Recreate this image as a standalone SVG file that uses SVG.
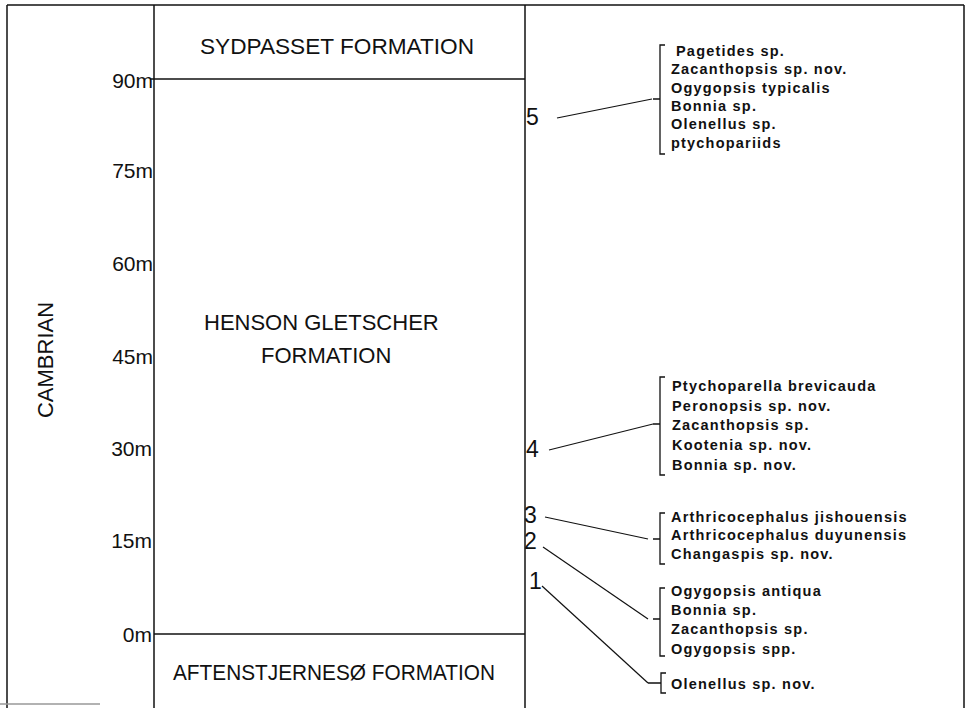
<svg xmlns="http://www.w3.org/2000/svg" width="971" height="708" viewBox="0 0 971 708">
<style>
.frame{stroke:#111;stroke-width:1.5;fill:none}
.big{font-family:"Liberation Sans",Arial,sans-serif;font-size:22px;fill:#111}
.ax{font-family:"Liberation Sans",Arial,sans-serif;font-size:21px;fill:#111;text-anchor:end}
.num{font-family:"Liberation Sans",Arial,sans-serif;font-size:23px;fill:#111}
.sp{font-family:"Liberation Sans",Arial,sans-serif;font-size:14.5px;font-weight:bold;letter-spacing:1.2px;fill:#111}
.con{stroke:#111;stroke-width:1.2;fill:none}
.br{stroke:#111;stroke-width:1.3;fill:none}
</style>
<rect width="971" height="708" fill="#fff"/>
<g id="frame">
<line class="frame" x1="7" y1="5" x2="964" y2="5"/>
<line class="frame" x1="7" y1="5" x2="7" y2="708"/>
<line class="frame" x1="964" y1="5" x2="964" y2="708"/>
<line class="frame" x1="154" y1="5" x2="154" y2="708"/>
<line class="frame" x1="525" y1="5" x2="525" y2="708"/>
<line x1="0" y1="704" x2="100" y2="704" stroke="#999" stroke-width="1.5"/>
</g>
<g id="sydpasset">
<line class="frame" x1="150" y1="79" x2="525" y2="79"/>
<text class="big" x="200" y="54" textLength="274" lengthAdjust="spacingAndGlyphs">SYDPASSET FORMATION</text>
</g>
<g id="henson">
<text class="big" x="204" y="330">HENSON GLETSCHER</text>
<text class="big" x="261" y="363">FORMATION</text>
</g>
<g id="aftenstjernesoe">
<line class="frame" x1="154" y1="634" x2="525" y2="634"/>
<text class="big" x="173" y="680" textLength="322" lengthAdjust="spacingAndGlyphs">AFTENSTJERNESØ FORMATION</text>
</g>
<g id="axis">
<text class="big" transform="translate(53 360) rotate(-90)" text-anchor="middle">CAMBRIAN</text>
<text class="ax" x="153" y="88">90m</text>
<text class="ax" x="153" y="178">75m</text>
<text class="ax" x="153" y="271">60m</text>
<text class="ax" x="153" y="364">45m</text>
<text class="ax" x="152" y="456">30m</text>
<text class="ax" x="152" y="548">15m</text>
<text class="ax" x="152" y="642">0m</text>
</g>
<g id="levels">
<text class="num" x="526" y="125">5</text>
<text class="num" x="526" y="457">4</text>
<text class="num" x="524" y="523">3</text>
<text class="num" x="524" y="549">2</text>
<text class="num" x="529" y="589">1</text>
</g>
<g id="connectors">
<line class="con" x1="557" y1="118" x2="652" y2="99"/>
<line class="con" x1="549" y1="450" x2="653" y2="424"/>
<line class="con" x1="545" y1="517" x2="648" y2="539"/>
<line class="con" x1="543" y1="547" x2="648" y2="619"/>
<line class="con" x1="542" y1="586" x2="648" y2="683"/>
</g>
<g id="group5">
<path class="br" d="M665 45 H660 V154 H665 M660 99 H653"/>
<text class="sp" x="676" y="56">Pagetides sp.</text>
<text class="sp" x="671" y="74">Zacanthopsis sp. nov.</text>
<text class="sp" x="671" y="92.5">Ogygopsis typicalis</text>
<text class="sp" x="671" y="111">Bonnia sp.</text>
<text class="sp" x="671" y="129">Olenellus sp.</text>
<text class="sp" x="671" y="147.5">ptychopariids</text>
</g>
<g id="group4">
<path class="br" d="M665 377 H660 V475 H665 M660 424 H653"/>
<text class="sp" x="672" y="391">Ptychoparella brevicauda</text>
<text class="sp" x="672" y="411">Peronopsis sp. nov.</text>
<text class="sp" x="672" y="430">Zacanthopsis sp.</text>
<text class="sp" x="672" y="450">Kootenia sp. nov.</text>
<text class="sp" x="672" y="470">Bonnia sp. nov.</text>
</g>
<g id="group3">
<path class="br" d="M665 513 H660 V564 H665 M660 539 H653"/>
<text class="sp" x="671" y="522">Arthricocephalus jishouensis</text>
<text class="sp" x="671" y="540">Arthricocephalus duyunensis</text>
<text class="sp" x="671" y="559">Changaspis sp. nov.</text>
</g>
<g id="group2">
<path class="br" d="M665 588 H660 V656 H665 M660 619 H653"/>
<text class="sp" x="671" y="596">Ogygopsis antiqua</text>
<text class="sp" x="671" y="615">Bonnia sp.</text>
<text class="sp" x="671" y="634">Zacanthopsis sp.</text>
<text class="sp" x="671" y="654">Ogygopsis spp.</text>
</g>
<g id="group1">
<path class="br" d="M666 673 H661 V693 H666 M661 683 H648"/>
<text class="sp" x="671" y="689">Olenellus sp. nov.</text>
</g>
</svg>
